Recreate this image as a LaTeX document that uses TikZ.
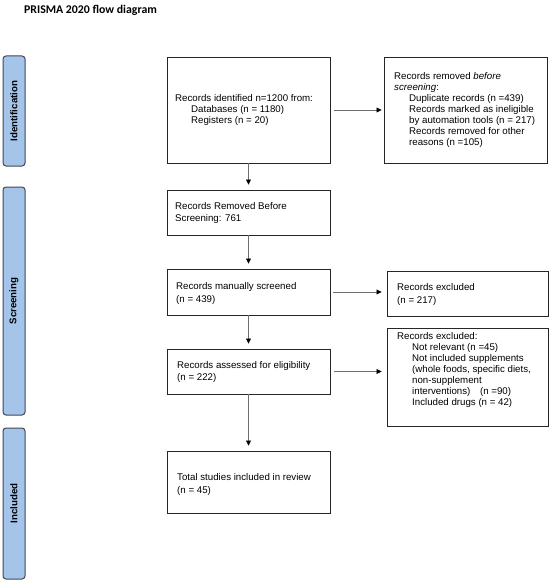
\documentclass[tikz,border=0pt]{standalone}
\usepackage{fontspec}
\setmainfont{Liberation Sans}
\newfontfamily\titlefont{Carlito}
\usetikzlibrary{arrows.meta}
\definecolor{barfill}{RGB}{164,196,234}
\definecolor{barline}{RGB}{64,72,84}
\definecolor{arrowgray}{RGB}{110,110,110}
\begin{document}
\begin{tikzpicture}[x=1pt,y=-1pt,
  box/.style={draw=black!85, line width=0.9pt, rectangle, inner sep=0pt},
  txt/.style={align=left, inner sep=0pt, font=\fontsize{9.7}{11}\selectfont, anchor=west},
  bar/.style={draw=barline, fill=barfill, rounded corners=3pt, line width=1pt, inner sep=0pt},
  barlabel/.style={rotate=90, inner sep=0pt, font=\bfseries\fontsize{9.7}{11}\selectfont},
  arr/.style={draw=arrowgray, line width=0.7pt, -{Triangle[length=5pt,width=5pt,black]}}
]
\useasboundingbox (0,0) rectangle (550,583);

% title
\node[anchor=base west, inner sep=0pt, font=\titlefont\bfseries\fontsize{11.8}{14}\selectfont] (title) at (24,14) {PRISMA 2020 flow diagram};

% side bars
\node[bar, minimum width=22pt, minimum height=110pt] (s1) at (14,111) {};
\node[barlabel] (l1) at (s1.center) {Identification};
\node[bar, minimum width=22pt, minimum height=228pt] (s2) at (14,301) {};
\node[barlabel] (l2) at (s2.center) {Screening};
\node[bar, minimum width=22pt, minimum height=151pt] (s3) at (14,503.5) {};
\node[barlabel] (l3) at (s3.center) {Included};

% main column boxes
\node[box, minimum width=163pt, minimum height=106pt] (b1) at (248.5,110) {};
\node[txt] (t1) at (175,110) {Records identified n=1200 from:\\
  \hspace*{16pt}Databases (n = 1180)\\
  \hspace*{16pt}Registers (n = 20)};

\node[box, minimum width=163pt, minimum height=45pt] (b2) at (248.5,212.5) {};
\node[txt] (t2) at (175,213) {Records Removed Before\\[1pt]Screening: 761};

\node[box, minimum width=163pt, minimum height=46pt] (b3) at (248.5,292) {};
\node[txt] (t3) at (176,293) {Records manually screened\\[2pt](n = 439)};

\node[box, minimum width=163pt, minimum height=45pt] (b4) at (248.5,371.5) {};
\node[txt] (t4) at (177,372) {Records assessed for eligibility\\[1pt](n = 222)};

\node[box, minimum width=163pt, minimum height=62pt] (b5) at (248.5,482) {};
\node[txt] (t5) at (177,484) {Total studies included in review\\[2pt](n = 45)};

% right column boxes
\node[box, minimum width=163pt, minimum height=106pt] (r1) at (465.5,110) {};
\node[txt] (u1) at (394,110) {Records removed \emph{before}\\
  \emph{screening}:\\
  \hspace*{15pt}Duplicate records (n =439)\\
  \hspace*{15pt}Records marked as ineligible\\
  \hspace*{15pt}by automation tools (n = 217)\\
  \hspace*{15pt}Records removed for other\\
  \hspace*{15pt}reasons (n =105)};

\node[box, minimum width=161pt, minimum height=45pt] (r2) at (467.5,293.5) {};
\node[txt] (u2) at (397,294.5) {Records excluded\\[2pt](n = 217)};

\node[box, minimum width=161pt, minimum height=98pt] (r3) at (467.5,377) {};
\node[txt, anchor=north west] (u3) at (397,332) {Records excluded:\\
  \hspace*{15pt}Not relevant (n =45)\\
  \hspace*{15pt}Not included supplements\\
  \hspace*{15pt}(whole foods, specific diets,\\
  \hspace*{15pt}non-supplement\\
  \hspace*{15pt}interventions)\quad(n =90)\\
  \hspace*{15pt}Included drugs (n = 42)};

% connectors
\draw[arr, shorten >=5pt] (b1.south) -- (b1.south |- b2.north);
\draw[arr, shorten >=5pt] (b2.south) -- (b2.south |- b3.north);
\draw[arr, shorten >=5pt] (b3.south) -- (b3.south |- b4.north);
\draw[arr, shorten >=5pt] (b4.south) -- (b4.south |- b5.north);
\draw[arr, shorten <=4pt, shorten >=2pt] (b1.east) -- (b1.east -| r1.west);
\draw[arr, shorten <=3pt, shorten >=5pt] (b3.east) -- (b3.east -| r2.west);
\draw[arr, shorten <=4pt, shorten >=5pt] (b4.east) -- (b4.east -| r3.west);
\end{tikzpicture}
\end{document}
